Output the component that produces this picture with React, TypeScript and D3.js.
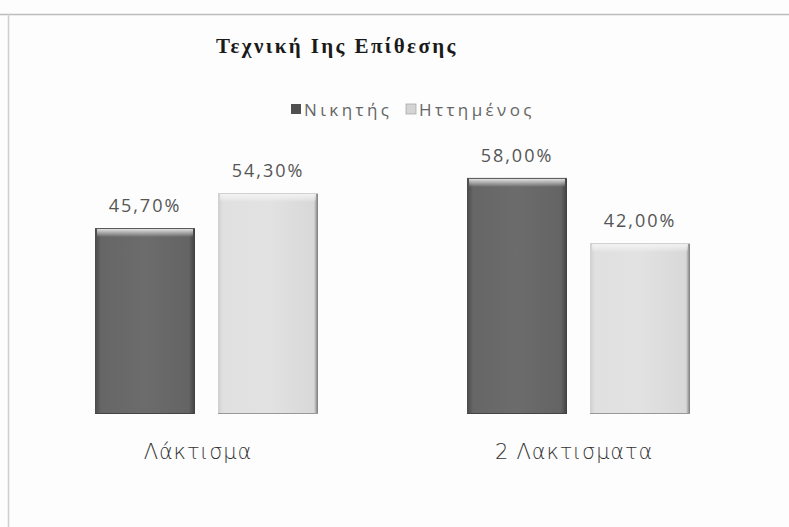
import React from "react";
import * as d3 from "d3";

const categories = ["Λάκτισμα", "2 Λακτισματα"];
const series = ["Νικητής", "Ηττημένος"];
const winnerValues = [45.7, 58.0];
const loserValues = [54.3, 42.0];
const valueLabels = [["45,70%", "54,30%"], ["58,00%", "42,00%"]];
const title = "Τεχνική Ιης Επίθεσης";

const W = 789;
const H = 527;

export default function App() {
  const x0 = d3.scaleBand<string>().domain(categories).range([20, 764]);
  const x1 = d3.scaleBand<string>().domain(series).range([75, 298]).paddingInner(0.187);
  const y = d3.scaleLinear().domain([0, 100]).range([414, 7]);
  const values = [winnerValues, loserValues];

  const sans = "'Open Sans', 'DejaVu Sans', sans-serif";

  return (
    <svg width={W} height={H} style={{ position: "absolute", left: 0, top: 0, background: "#fdfdfd" }}>
      <defs>
        <linearGradient id="darkH" x1="0" x2="1" y1="0" y2="0">
          <stop offset="0" stopColor="#4a4a4a" />
          <stop offset="0.06" stopColor="#666" />
          <stop offset="0.5" stopColor="#6c6c6c" />
          <stop offset="0.94" stopColor="#646464" />
          <stop offset="1" stopColor="#404040" />
        </linearGradient>
        <linearGradient id="lightH" x1="0" x2="1" y1="0" y2="0">
          <stop offset="0" stopColor="#cfcfcf" />
          <stop offset="0.05" stopColor="#e0e0e0" />
          <stop offset="0.5" stopColor="#e2e2e2" />
          <stop offset="0.96" stopColor="#d8d8d8" />
          <stop offset="1" stopColor="#7a7a7a" />
        </linearGradient>
        <linearGradient id="topBevel" x1="0" x2="0" y1="0" y2="1">
          <stop offset="0" stopColor="#f4f4f4" stopOpacity="0.95" />
          <stop offset="1" stopColor="#ffffff" stopOpacity="0" />
        </linearGradient>
      </defs>
      <rect x={0} y={0} width={W} height={H} fill="#fdfdfd" />
      <line x1={0} x2={W} y1={14.5} y2={14.5} stroke="#bdbdbd" strokeWidth={1.5} />
      <line x1={8.5} x2={8.5} y1={14} y2={H} stroke="#cfcfcf" strokeWidth={1.5} />

      <text x={216} y={53} fontFamily="'Liberation Serif', serif" fontWeight="bold" fontSize={21} letterSpacing={2.4} fill="#1a1a1a">
        {title}
      </text>

      <g fontFamily={sans} fontSize={17} fill="#666">
        <rect x={291} y={104} width={10} height={10} fill="#505050" />
        <text x={304} y={116} letterSpacing={3.4}>{series[0]}</text>
        <rect x={406} y={104} width={10} height={10} fill="#d4d4d4" stroke="#aaa" strokeWidth={0.8} />
        <text x={419} y={116} letterSpacing={3.4}>{series[1]}</text>
      </g>

      {categories.map((c, ci) => (
        <g key={c} transform={`translate(${x0(c)},0)`}>
          {series.map((s, si) => {
            const v = values[si][ci];
            const bx = x1(s)!;
            const bw = x1.bandwidth();
            const top = y(v);
            const bh = y(0) - top;
            const dark = si === 0;
            return (
              <g key={s}>
                <rect x={bx} y={top} width={bw} height={bh} fill={dark ? "url(#darkH)" : "url(#lightH)"} />
                <rect x={bx + 2} y={top} width={bw - 4} height={9} fill="url(#topBevel)" />
                <line x1={bx} x2={bx + bw} y1={top + 0.5} y2={top + 0.5} stroke={dark ? "#5a5a5a" : "#d0d0d0"} />
                <line x1={bx} x2={bx + bw} y1={y(0) - 0.5} y2={y(0) - 0.5} stroke={dark ? "#444" : "#999"} />
                <text x={bx + bw / 2} y={top - 16} textAnchor="middle" fontFamily={sans} fontSize={18} letterSpacing={2} fill="#555">
                  {valueLabels[ci][si]}
                </text>
              </g>
            );
          })}
          <text x={x0.bandwidth() / 2 - 8 + ci * 4} y={459} textAnchor="middle" fontFamily="'DejaVu Sans', sans-serif" fontWeight={300} fontSize={21} letterSpacing={0.8} fill="#333">
            {c}
          </text>
        </g>
      ))}
    </svg>
  );
}
